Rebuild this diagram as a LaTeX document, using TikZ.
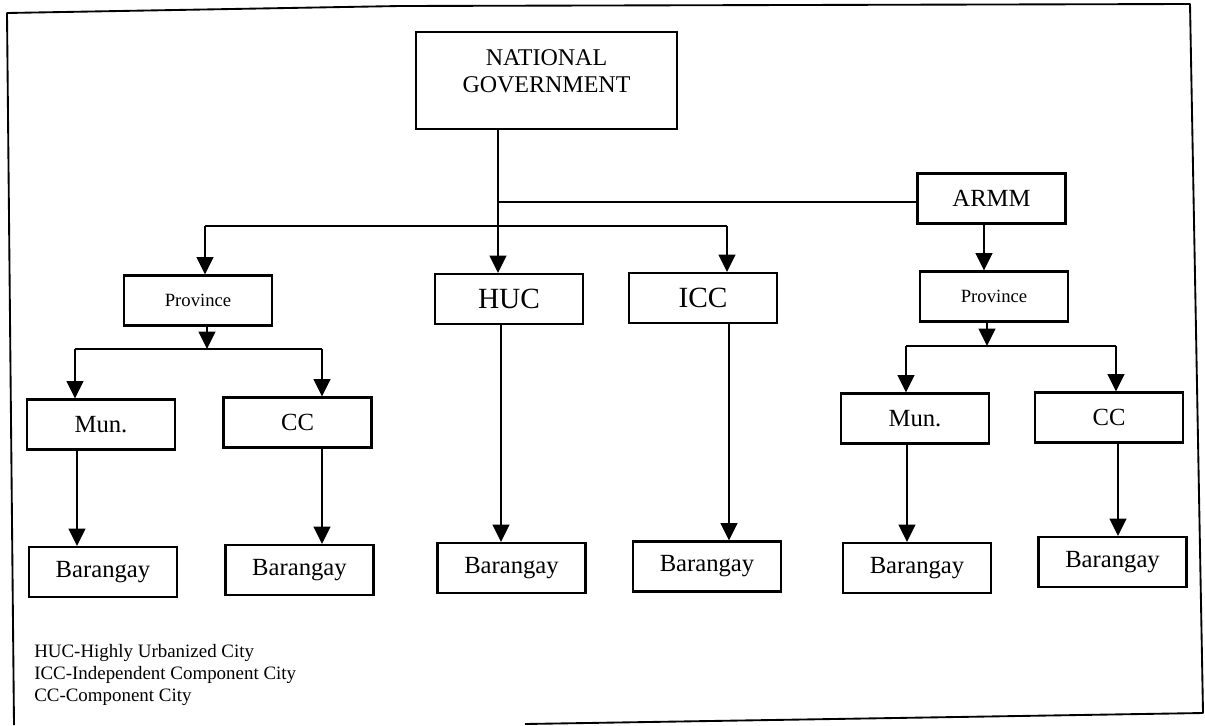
\documentclass[tikz,border=0pt]{standalone}
\usepackage{fontspec}
\setmainfont{Liberation Serif}
\usetikzlibrary{arrows.meta}
\begin{document}
\begin{tikzpicture}[x=0.75pt,y=-0.75pt,
  box/.style={draw, line width=1.6pt, minimum width=111pt, minimum height=37.5pt, inner sep=0pt},
  conn/.style={line width=1.7pt},
  arr/.style={conn, -{Triangle[length=13pt,width=12.5pt]}},
  frame/.style={line width=1.4pt, line join=round},
  small/.style={font=\fontsize{14}{16}\selectfont},
  mid/.style={font=\fontsize{18.5}{20}\selectfont},
  big/.style={font=\fontsize{22}{24}\selectfont},
  key/.style={font=\fontsize{14.2}{16.5}\selectfont, align=left, inner sep=0pt}]
\useasboundingbox (0,0) rectangle (1205,725);

% outer frame
\draw[frame] (14,725) -- (7,13) -- (400,6) -- (1190,4) -- (1203,713) -- (525,724);

% top level
\node[draw, line width=1.6pt, minimum width=195.75pt, minimum height=72.75pt] (ng) at (546.5,80.5) {};
\node[align=center, font=\fontsize{18}{20.25}\selectfont] (ngtext) at (546.5,71) {NATIONAL\\GOVERNMENT};
\node[box,mid] (armm) at (991.5,198.5) {ARMM};

% second level
\node[box,small] (prov1) at (198,300.5) {Province};
\node[box,big] (huc) at (509,299) {HUC};
\node[box,big] (icc) at (703,298) {ICC};
\node[box,small] (prov2) at (994,296.5) {Province};

% third level
\node[box,mid] (mun1) at (101,424.5) {Mun.};
\node[box,mid] (cc1) at (297.5,422.5) {CC};
\node[box,mid] (mun2) at (915,418.5) {Mun.};
\node[box,mid] (cc2) at (1109,417.5) {CC};

% barangays
\node[box,mid] (bar1) at (103,572) {Barangay};
\node[box,mid] (bar2) at (299.5,570) {Barangay};
\node[box,mid] (bar3) at (511.5,568) {Barangay};
\node[box,mid] (bar4) at (707,566.5) {Barangay};
\node[box,mid] (bar5) at (917,568) {Barangay};
\node[box,mid] (bar6) at (1112.5,562) {Barangay};

% junction points
\coordinate (tA) at (498,202);
\coordinate (tB) at (498,226);
\coordinate (bl) at (205,226);
\coordinate (br) at (727,226);
\coordinate (aX) at (984,0);
\coordinate (p1) at (207,349);
\coordinate (p1l) at (75,349);
\coordinate (p1r) at (322,349);
\coordinate (p2) at (987,346);
\coordinate (p2l) at (906,346);
\coordinate (p2r) at (1116,346);
\coordinate (m1) at (77,0);
\coordinate (c1) at (322,0);
\coordinate (h1) at (501,0);
\coordinate (i1) at (729,0);
\coordinate (m2) at (907,0);
\coordinate (c2) at (1118,0);

% national government branches
\draw[arr] (ng.south -| tA) -- (tA |- huc.north);
\draw[conn] (tA) -- (tA -| armm.west);
\draw[conn] (bl) -- (br);
\draw[arr] (bl) -- (bl |- prov1.north);
\draw[arr] (br) -- (br |- icc.north);
\draw[arr] (armm.south -| aX) -- (aX |- prov2.north);

% province branches
\draw[arr] (prov1.south -| p1) -- (p1);
\draw[conn] (p1l) -- (p1r);
\draw[arr] (p1l) -- (p1l |- mun1.north);
\draw[arr] (p1r) -- (p1r |- cc1.north);
\draw[arr] (prov2.south -| p2) -- (p2);
\draw[conn] (p2l) -- (p2r);
\draw[arr] (p2l) -- (p2l |- mun2.north);
\draw[arr] (p2r) -- (p2r |- cc2.north);

% down to the barangays
\draw[arr] (mun1.south -| m1) -- (m1 |- bar1.north);
\draw[arr] (cc1.south -| c1) -- (c1 |- bar2.north);
\draw[arr] (huc.south -| h1) -- (h1 |- bar3.north);
\draw[arr] (icc.south -| i1) -- (i1 |- bar4.north);
\draw[arr] (mun2.south -| m2) -- (m2 |- bar5.north);
\draw[arr] (cc2.south -| c2) -- (c2 |- bar6.north);

% abbreviations
\node[key, anchor=west] (legend) at (34,675) {HUC-Highly Urbanized City\\ICC-Independent Component City\\CC-Component City};
\end{tikzpicture}
\end{document}
